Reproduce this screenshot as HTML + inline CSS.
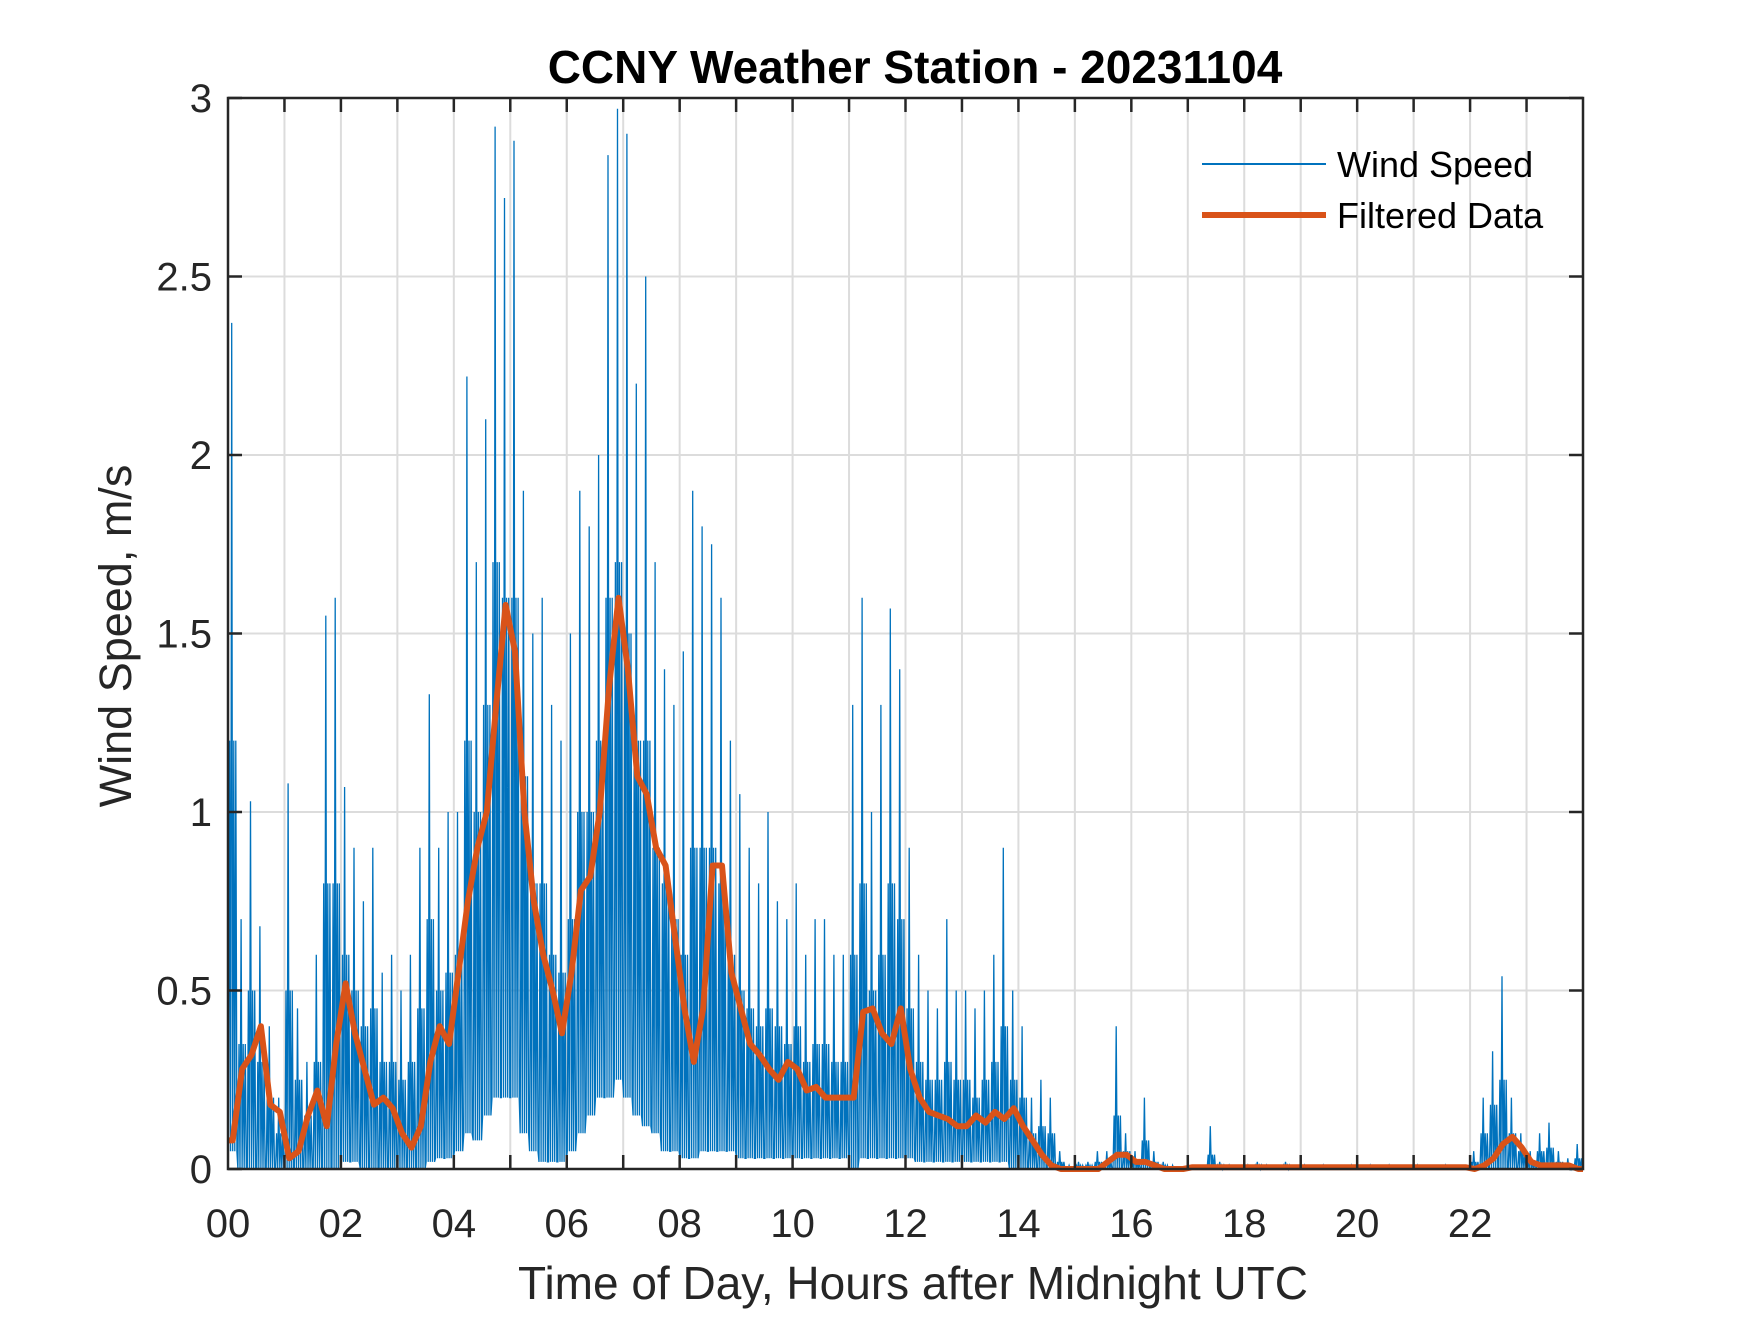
<!DOCTYPE html>
<html><head><meta charset="utf-8"><style>
body{margin:0;background:#fff}
svg text{font-family:"Liberation Sans",Arial,sans-serif;fill:#262626}
</style></head><body>
<svg id="chart" width="1750" height="1313" viewBox="0 0 1750 1313" xmlns="http://www.w3.org/2000/svg">
<rect width="1750" height="1313" fill="#fff"/>
<g id="grid"></g>
<g id="series"></g>
<g id="axes"></g>
<text x="915" y="83" text-anchor="middle" font-size="46" font-weight="bold" style="fill:#000">CCNY Weather Station - 20231104</text>
<text x="913" y="1299" text-anchor="middle" font-size="46">Time of Day, Hours after Midnight UTC</text>
<text transform="translate(131,636) rotate(-90)" text-anchor="middle" font-size="45">Wind Speed, m/s</text>
<g>
<line x1="1202" y1="164" x2="1326" y2="164" stroke="#0072BD" stroke-width="2"/>
<text x="1337" y="177" font-size="36" style="fill:#000">Wind Speed</text>
<line x1="1202" y1="215" x2="1326" y2="215" stroke="#D95319" stroke-width="6"/>
<text x="1337" y="228" font-size="36" style="fill:#000">Filtered Data</text>
</g>
</svg>
<script>
const windMax=[2.37,0.7,1.03,0.68,0.4,0.2, 1.08,0.45,0.3,0.6,1.55,1.6, 1.07,0.9,0.75,0.9,0.55,0.6, 0.5,0.6,0.9,1.33,0.9,1.0,
1.0,2.22,1.7,2.1,2.92,2.72, 2.88,1.9,1.5,1.6,1.3,1.2, 1.5,1.9,1.8,2.0,2.84,2.97, 2.9,2.2,2.5,1.7,1.4,1.3,
1.45,1.9,1.8,1.75,1.6,1.2, 1.05,0.9,0.8,1.0,0.75,0.7, 0.8,0.6,0.7,0.7,0.6,0.6, 1.3,1.6,1.0,1.3,1.57,1.4,
0.9,0.6,0.5,0.45,0.7,0.5, 0.5,0.45,0.5,0.6,0.9,0.5, 0.4,0.2,0.25,0.2,0.05,0.01, 0.02,0.02,0.05,0.05,0.4,0.1,
0.05,0.2,0.05,0.02,0.01,0.0, 0.0,0.0,0.12,0.02,0.01,0.0, 0.01,0.02,0.01,0.0,0.02,0.0, 0.01,0.0,0.01,0.0,0.0,0.01,
0.0,0.01,0.0,0.01,0.0,0.0, 0.01,0.0,0.0,0.01,0.0,0.0, 0.05,0.2,0.33,0.54,0.2,0.1, 0.05,0.1,0.13,0.05,0.03,0.07];
const windTypical=[1.2,0.35,0.5,0.3,0.2,0.1, 0.5,0.25,0.15,0.3,0.8,0.8, 0.6,0.5,0.4,0.45,0.3,0.3, 0.25,0.3,0.45,0.7,0.5,0.55,
0.6,1.2,1.0,1.3,1.7,1.6, 1.6,1.1,0.8,0.8,0.6,0.55, 0.7,1.0,1.0,1.2,1.6,1.7, 1.5,1.2,1.2,0.9,0.8,0.7,
0.6,0.9,0.9,0.9,0.8,0.6, 0.5,0.45,0.4,0.45,0.4,0.35, 0.4,0.3,0.35,0.35,0.3,0.3, 0.6,0.8,0.5,0.6,0.8,0.7,
0.45,0.3,0.25,0.25,0.3,0.25, 0.25,0.2,0.25,0.3,0.4,0.25, 0.2,0.1,0.12,0.1,0.02,0.0, 0.01,0.01,0.02,0.02,0.15,0.05,
0.02,0.08,0.02,0.01,0.0,0.0, 0.0,0.0,0.04,0.01,0.0,0.0, 0.0,0.01,0.0,0.0,0.01,0.0, 0.0,0.0,0.0,0.0,0.0,0.0,
0.0,0.0,0.0,0.0,0.0,0.0, 0.0,0.0,0.0,0.0,0.0,0.0, 0.02,0.1,0.18,0.25,0.1,0.05, 0.02,0.05,0.06,0.02,0.01,0.03];
const windMin=[0.05,0,0,0,0,0, 0,0,0,0,0,0, 0.02,0.02,0,0,0,0, 0,0,0,0.02,0.03,0.03,
0.05,0.1,0.08,0.15,0.2,0.2, 0.2,0.1,0.05,0.02,0.02,0.02, 0.05,0.1,0.15,0.2,0.2,0.25, 0.2,0.15,0.12,0.1,0.05,0.05,
0.03,0.03,0.05,0.05,0.05,0.05, 0.03,0.03,0.03,0.03,0.03,0.03, 0.03,0.03,0.03,0.03,0.03,0.03, 0,0.03,0.03,0.03,0.03,0.03,
0.03,0.02,0.02,0.02,0.02,0.02, 0.02,0.02,0.02,0.02,0.02,0, 0,0,0,0,0,0, 0,0,0,0,0,0,
0,0,0,0,0,0, 0,0,0,0,0,0, 0,0,0,0,0,0, 0,0,0,0,0,0,
0,0,0,0,0,0, 0,0,0,0,0,0, 0,0,0,0,0,0, 0,0,0,0,0,0];
const filtered=[0.08,0.28,0.32,0.40,0.18,0.16, 0.03,0.05,0.15,0.22,0.12,0.35, 0.52,0.38,0.28,0.18,0.2,0.17, 0.1,0.06,0.12,0.3,0.4,0.35,
0.55,0.75,0.9,1.0,1.3,1.58, 1.45,1.0,0.75,0.6,0.5,0.38, 0.55,0.78,0.82,1.0,1.35,1.6, 1.4,1.1,1.05,0.9,0.85,0.65,
0.45,0.3,0.45,0.85,0.85,0.55, 0.45,0.35,0.32,0.28,0.25,0.3, 0.28,0.22,0.23,0.2,0.2,0.2, 0.2,0.44,0.45,0.38,0.35,0.45,
0.28,0.2,0.16,0.15,0.14,0.12, 0.12,0.15,0.13,0.16,0.14,0.17, 0.12,0.08,0.04,0.01,0.0,0.0, 0,0,0,0.02,0.04,0.04,
0.02,0.02,0.01,0.0,0.0,0.0, 0.005,0.005,0.005,0.005,0.005,0.005, 0.005,0.005,0.005,0.005,0.005,0.005, 0.005,0.005,0.005,0.005,0.005,0.005,
0.005,0.005,0.005,0.005,0.005,0.005, 0.005,0.005,0.005,0.005,0.005,0.005, 0.0,0.01,0.03,0.07,0.09,0.06, 0.02,0.01,0.01,0.01,0.01,0.0];
const xTickLabels=["00","02","04","06","08","10","12","14","16","18","20","22"];
const yTickValues=[0,0.5,1,1.5,2,2.5,3];
const yTickLabels=["0","0.5","1","1.5","2","2.5","3"];

const L=228,R=1583,T=98,B=1169,XMAX=24,YMAX=3;
const X=h=>L+h/XMAX*(R-L);
const Y=v=>B-v/YMAX*(B-T);
const NS="http://www.w3.org/2000/svg";
function mk(tag,attrs,parent){const e=document.createElementNS(NS,tag);for(const k in attrs)e.setAttribute(k,attrs[k]);parent.appendChild(e);return e;}
const grid=document.getElementById('grid'),series=document.getElementById('series'),axes=document.getElementById('axes');
for(let h=1;h<XMAX;h++){const g=mk('line',{x1:X(h),x2:X(h),y1:T,y2:B,stroke:'#dcdcdc','stroke-width':2},grid);

}
yTickValues.forEach(v=>{if(v>0&&v<YMAX){const g=mk('line',{x1:L,x2:R,y1:Y(v),y2:Y(v),stroke:'#dcdcdc','stroke-width':2},grid);

}});
const step=XMAX/windMax.length;
let pts=[];
windMax.forEach((m,i)=>{const x0=i*step,lo=Y(windMin[i]),ty=Y(windTypical[i]);
const seq=[lo,ty,lo,Y(m),lo,ty,lo,ty,lo];
seq.forEach((y,k)=>pts.push([X(x0+step*(k+0.5)/seq.length),y]));});
const wl=mk('polyline',{points:pts.map(p=>p[0].toFixed(1)+','+p[1].toFixed(1)).join(' '),fill:'none',stroke:'#0072BD','stroke-width':1.3},series);


const fp=filtered.map((v,i)=>X(i*step+step/2).toFixed(1)+','+Y(v).toFixed(1));
fp.unshift(X(0)+','+Y(filtered[0]).toFixed(1));fp.push(X(XMAX)+','+Y(filtered[filtered.length-1]).toFixed(1));
const fl=mk('polyline',{points:fp.join(' '),fill:'none',stroke:'#D95319','stroke-width':6,'stroke-linejoin':'round'},series);


const box=mk('rect',{x:L,y:T,width:R-L,height:B-T,fill:'none',stroke:'#262626','stroke-width':2.5},axes);


for(let h=1;h<XMAX;h++){mk('line',{x1:X(h),x2:X(h),y1:B,y2:B-14,stroke:'#262626','stroke-width':2.5},axes);mk('line',{x1:X(h),x2:X(h),y1:T,y2:T+14,stroke:'#262626','stroke-width':2.5},axes);}
xTickLabels.forEach((s,i)=>{const t=mk('text',{x:X(i*2),y:1237,'text-anchor':'middle','font-size':40},axes);t.textContent=s;

});
yTickValues.forEach((v,i)=>{mk('line',{x1:L,x2:L+14,y1:Y(v),y2:Y(v),stroke:'#262626','stroke-width':2.5},axes);mk('line',{x1:R,x2:R-14,y1:Y(v),y2:Y(v),stroke:'#262626','stroke-width':2.5},axes);
const t=mk('text',{x:212,y:Y(v)+14,'text-anchor':'end','font-size':40},axes);t.textContent=yTickLabels[i];

});
</script>
</body></html>
